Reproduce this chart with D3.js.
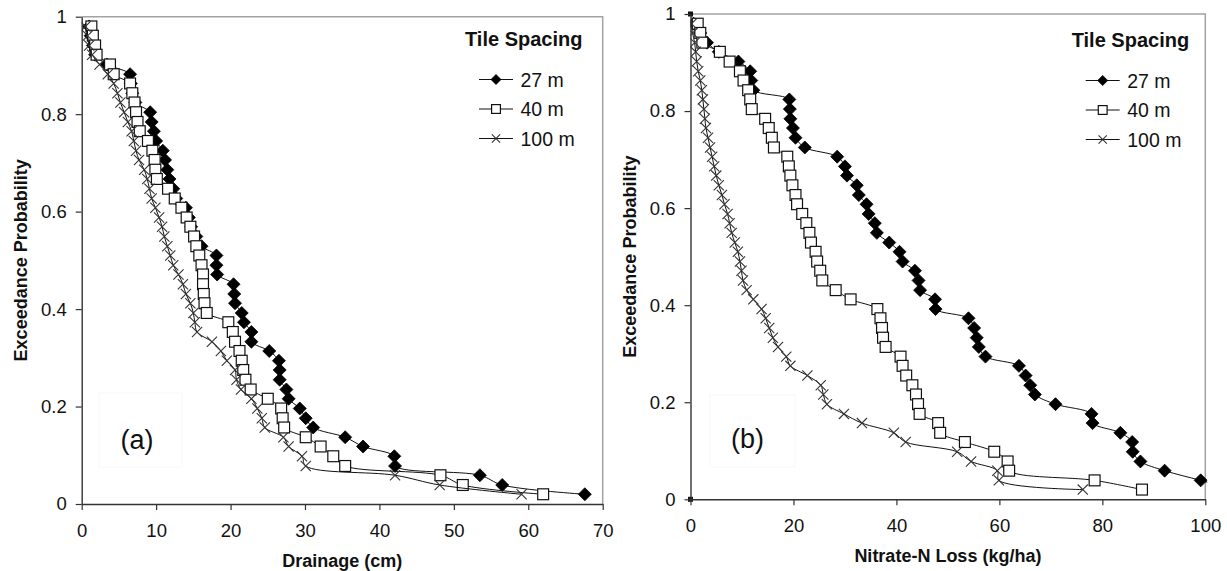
<!DOCTYPE html>
<html>
<head>
<meta charset="utf-8">
<script src="https://cdn.jsdelivr.net/npm/d3@7"></script>
<style>
  body { margin: 0; background: #fff; }
  text { font-family: "Liberation Sans", Arial, sans-serif; fill: #111; }
</style>
</head>
<body>
<script>
// Exceedance probability of each ranked year (rank / 51), shared by all series
var rankProb = [0.980, 0.961, 0.941, 0.922, 0.902, 0.882, 0.863, 0.843, 0.824, 0.804,
                0.784, 0.765, 0.745, 0.725, 0.706, 0.686, 0.667, 0.647, 0.627, 0.608,
                0.588, 0.569, 0.549, 0.529, 0.510, 0.490, 0.471, 0.451, 0.431, 0.412,
                0.392, 0.373, 0.353, 0.333, 0.314, 0.294, 0.275, 0.255, 0.235, 0.216,
                0.196, 0.176, 0.157, 0.137, 0.118, 0.098, 0.078, 0.059, 0.039, 0.020];

// (a) Drainage (cm)
var drainage27 = [1.0, 1.2, 1.5, 1.8, 3.4, 6.5, 6.6, 6.8, 7.2, 9.2,
                  9.4, 9.7, 10.0, 10.9, 11.2, 11.5, 11.8, 12.3, 12.7, 14.0,
                  14.4, 14.7, 15.4, 16.1, 18.1, 18.1, 18.2, 20.4, 20.5, 20.6,
                  21.5, 21.8, 22.8, 22.8, 25.2, 26.5, 26.6, 26.6, 27.5, 27.8,
                  29.3, 30.1, 31.1, 35.4, 37.8, 42.0, 42.1, 53.5, 56.5, 67.6];
var drainage40 = [1.3, 1.5, 1.8, 2.0, 3.8, 4.3, 6.5, 6.8, 7.1, 7.3,
                  7.5, 7.8, 8.9, 9.5, 9.8, 9.9, 10.1, 11.6, 12.5, 13.4,
                  14.1, 14.6, 15.1, 15.4, 15.8, 16.1, 16.3, 16.3, 16.4, 16.5,
                  16.8, 19.7, 20.3, 20.6, 21.2, 21.5, 21.7, 22.0, 22.7, 25.0,
                  26.8, 27.0, 27.2, 30.1, 32.1, 33.8, 35.4, 48.2, 51.2, 62.0];
var drainage100 = [0.5, 0.8, 1.0, 1.4, 2.4, 3.5, 4.3, 4.8, 5.2, 5.7,
                   6.2, 6.7, 7.0, 7.3, 7.7, 8.4, 8.8, 9.1, 9.4, 9.9,
                   10.4, 10.8, 11.1, 11.5, 11.9, 12.3, 13.0, 13.6, 14.0, 14.6,
                   15.0, 15.2, 15.5, 17.5, 18.7, 19.5, 20.6, 20.8, 21.4, 22.8,
                   23.6, 24.2, 24.6, 27.1, 27.8, 29.6, 30.1, 42.1, 48.1, 59.1];

// (b) Nitrate-N loss (kg/ha)
var nitrate27 = [0.6, 1.9, 3.2, 5.5, 9.3, 11.6, 11.8, 12.2, 19.2, 19.3,
                 19.4, 19.9, 20.4, 22.2, 28.5, 30.0, 30.4, 32.3, 32.7, 34.2,
                 34.6, 35.8, 36.2, 38.6, 40.6, 41.2, 43.6, 44.3, 44.6, 47.5,
                 47.6, 54.0, 55.1, 55.6, 56.0, 57.3, 63.8, 65.1, 66.0, 66.9,
                 70.9, 77.9, 78.1, 83.5, 85.8, 85.9, 87.4, 92.1, 99.1, 105.6];
var nitrate40 = [1.4, 1.9, 2.3, 5.7, 7.6, 9.6, 10.3, 11.2, 11.6, 11.9,
                 14.5, 15.2, 15.8, 16.2, 18.8, 19.1, 19.4, 19.8, 20.4, 20.7,
                 21.7, 22.5, 23.1, 23.4, 24.3, 24.6, 25.2, 25.6, 28.2, 31.1,
                 36.3, 36.9, 37.2, 37.4, 37.9, 40.8, 41.2, 41.9, 43.1, 43.8,
                 44.2, 44.5, 48.1, 48.5, 53.3, 59.0, 61.6, 61.9, 78.5, 87.7];
var nitrate100 = [0.2, 0.4, 0.8, 1.0, 1.2, 1.5, 1.9, 2.2, 2.4, 2.6,
                  2.8, 3.0, 3.4, 3.8, 4.2, 4.6, 5.0, 5.5, 6.1, 6.6,
                  7.2, 7.6, 8.0, 8.6, 9.2, 9.6, 9.9, 10.2, 10.9, 12.2,
                  13.8, 14.6, 15.3, 16.0, 17.0, 18.6, 19.4, 22.7, 25.3, 25.8,
                  26.5, 29.8, 33.3, 39.5, 41.8, 51.8, 54.5, 59.6, 59.9, 76.2];

// Tick labels and legend names
var yTicks = [0, 0.2, 0.4, 0.6, 0.8, 1];
var yTickLabels = ["0", "0.2", "0.4", "0.6", "0.8", "1"];
var drainageTicks = [0, 10, 20, 30, 40, 50, 60, 70];
var nitrateTicks = [0, 20, 40, 60, 80, 100];
var seriesNames = ["27 m", "40 m", "100 m"];
var seriesMarkers = ["diamond", "square", "cross"];

var svg = d3.select("body")
    .append("svg")
    .attr("width", 1227)
    .attr("height", 571);

// draw one marker shape centred at 0,0
function drawMarker(sel, kind, r) {
    if (kind === "diamond") {
        sel.append("path")
            .attr("d", `M0,${-r}L${r},0L0,${r}L${-r},0Z`)
            .attr("fill", "#000")
            .attr("stroke", "#000")
            .attr("stroke-width", 0.8);
    } else if (kind === "square") {
        var s = r * 0.8;
        sel.append("rect")
            .attr("x", -s).attr("y", -s)
            .attr("width", 2 * s).attr("height", 2 * s)
            .attr("fill", "#fff")
            .attr("stroke", "#111")
            .attr("stroke-width", 1.2);
    } else {
        var c = r * 0.75;
        sel.append("path")
            .attr("d", `M${-c},${-c}L${c},${c}M${-c},${c}L${c},${-c}`)
            .attr("fill", "none")
            .attr("stroke", "#333")
            .attr("stroke-width", 1.1);
    }
}

function drawPanel(p, idx) {
    var x = d3.scaleLinear().domain([0, p.xMax]).range([p.left, p.right]);
    var y = d3.scaleLinear().domain([0, 1]).range([p.bottom, p.top]);

    var g = svg.append("g");

    // grey plot-area border on top and right
    g.append("path")
        .attr("d", `M${p.left},${p.top}H${p.right}V${p.bottom}`)
        .attr("fill", "none")
        .attr("stroke", "#a3a3a3")
        .attr("stroke-width", 1.5);

    // panel tag in its (almost invisible) white box
    g.append("rect")
        .attr("x", p.tagBox[0]).attr("y", p.tagBox[1])
        .attr("width", p.tagBox[2]).attr("height", p.tagBox[3])
        .attr("fill", "#fff")
        .attr("stroke", "#f8f8f8");
    g.append("text")
        .attr("x", p.tagPos[0])
        .attr("y", p.tagPos[1])
        .attr("text-anchor", "middle")
        .attr("font-size", "27px")
        .text(p.tag);

    svg.append("clipPath").attr("id", "clip" + idx)
        .append("rect")
        .attr("x", p.left).attr("y", p.top - 8)
        .attr("width", p.right - p.left + 2)
        .attr("height", p.bottom - p.top + 16);

    var plot = g.append("g").attr("clip-path", `url(#clip${idx})`);

    var line = d3.line()
        .x(d => x(d[0]))
        .y(d => y(d[1]))
        .curve(d3.curveCatmullRom.alpha(0.5));

    p.series.forEach((vals, si) => {
        var pts = vals.map((v, i) => [v, rankProb[i]]);
        plot.append("path")
            .datum(pts)
            .attr("d", line)
            .attr("fill", "none")
            .attr("stroke", "#111")
            .attr("stroke-width", 1);
        plot.append("g").selectAll("g")
            .data(pts)
            .enter()
            .append("g")
            .attr("transform", d => `translate(${x(d[0])},${y(d[1])})`)
            .each(function() { drawMarker(d3.select(this), seriesMarkers[si], si === 0 ? 6.5 : 6.8); });
    });

    // small anchor markers at the origin corner
    if (p.anchors) {
        g.selectAll(".anchor")
            .data([0, 1])
            .enter()
            .append("rect")
            .attr("x", x(0) - 2.5)
            .attr("y", d => y(d) - 2.5)
            .attr("width", 5).attr("height", 5)
            .attr("fill", "#111");
    }

    // axes
    var xAxis = g.append("g")
        .attr("transform", `translate(0,${p.bottom})`)
        .call(d3.axisBottom(x).tickValues(p.xTicks).tickSize(6).tickSizeOuter(0).tickPadding(14).tickFormat(d3.format("d")));
    var yAxis = g.append("g")
        .attr("transform", `translate(${p.left},0)`)
        .call(d3.axisLeft(y).tickValues(yTicks).tickSize(6).tickSizeOuter(0).tickPadding(9)
            .tickFormat((d, i) => yTickLabels[i]));
    [xAxis, yAxis].forEach(a => {
        a.select(".domain").attr("stroke", "#333").attr("stroke-width", 1.4);
        a.selectAll(".tick line").attr("stroke", "#333").attr("stroke-width", 1.2);
        a.selectAll(".tick text")
            .attr("font-size", "18.5px")
            .attr("font-family", "Liberation Sans, Arial, sans-serif")
            .attr("fill", "#111");
    });

    // axis titles
    g.append("text")
        .attr("x", (p.left + p.right) / 2)
        .attr("y", p.bottom + 63)
        .attr("text-anchor", "middle")
        .attr("font-size", "18px")
        .attr("font-weight", "bold")
        .text(p.xTitle);
    g.append("text")
        .attr("transform", `translate(${p.left - 55},${(p.top + p.bottom) / 2}) rotate(-90)`)
        .attr("text-anchor", "middle")
        .attr("font-size", "18px")
        .attr("font-weight", "bold")
        .text("Exceedance Probability");

    // legend
    var leg = g.append("g").attr("transform", `translate(${p.legend[0]},${p.legend[1]})`);
    leg.append("text")
        .attr("x", 0).attr("y", 0)
        .attr("font-size", "20px")
        .attr("font-weight", "bold")
        .text("Tile Spacing");
    seriesNames.forEach((name, i) => {
        var row = leg.append("g").attr("transform", `translate(0,${34 + i * 29.5})`);
        row.append("line")
            .attr("x1", 14).attr("x2", 48)
            .attr("y1", 0).attr("y2", 0)
            .attr("stroke", "#111").attr("stroke-width", 1);
        var m = row.append("g").attr("transform", "translate(31,0)");
        drawMarker(m, seriesMarkers[i], i === 0 ? 5 : 5.5);
        row.append("text")
            .attr("x", 55.5).attr("y", 7)
            .attr("font-size", "19.5px")
            .text(name);
    });
}

drawPanel({
    left: 81.7, right: 602.7, top: 16.7, bottom: 504,
    xMax: 70, xTicks: drainageTicks,
    series: [drainage27, drainage40, drainage100],
    xTitle: "Drainage (cm)",
    tag: "(a)", tagBox: [99, 393, 83, 74], tagPos: [137, 449],
    legend: [465, 45.5]
}, 0);

drawPanel({
    left: 690.5, right: 1205.3, top: 14, bottom: 499.3,
    xMax: 100, xTicks: nitrateTicks,
    series: [nitrate27, nitrate40, nitrate100],
    xTitle: "Nitrate-N Loss (kg/ha)",
    tag: "(b)", tagBox: [710, 395, 85, 72], tagPos: [747.5, 447.5],
    legend: [1071.7, 46.5],
    anchors: true
}, 1);
</script>
</body>
</html>
